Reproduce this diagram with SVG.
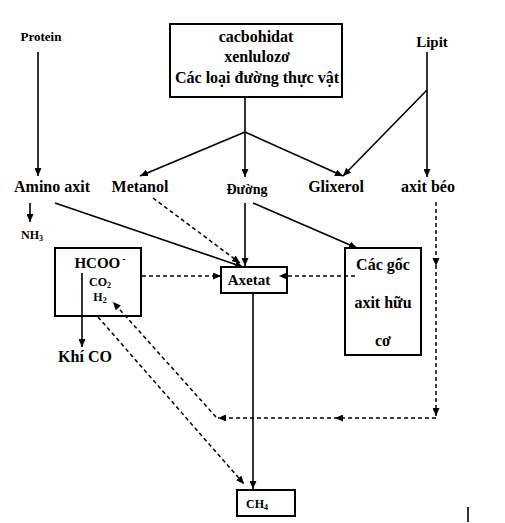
<svg xmlns="http://www.w3.org/2000/svg" width="505" height="523" viewBox="0 0 505 523">
<style>
text{font-family:"Liberation Serif","Times New Roman",serif;font-weight:bold;fill:#000;text-anchor:middle}
.box{fill:none;stroke:#000;stroke-width:2}
.s{fill:none;stroke:#000;stroke-width:1.6;marker-end:url(#ah)}
.d{fill:none;stroke:#000;stroke-width:1.5;stroke-dasharray:4 3;marker-end:url(#ah)}
.m{marker-mid:url(#ah)}
</style>
<defs>
<marker id="ah" markerUnits="userSpaceOnUse" markerWidth="8" markerHeight="7" refX="8" refY="3.5" orient="auto">
<path d="M0,0 L8,3.5 L0,7 z" fill="#000"/>
</marker>
</defs>
<rect width="505" height="523" fill="#fff"/>
<g id="carbohydrate">
<rect class="box" x="170" y="24" width="172" height="73"/>
<text x="256" y="42" font-size="16">cacbohidat</text>
<text x="257" y="62" font-size="16">xenlulozơ</text>
<text x="257" y="83" font-size="16">Các loại đường thực vật</text>
</g>
<g id="protein"><text x="41" y="41" font-size="13">Protein</text></g>
<g id="lipit"><text x="432" y="47" font-size="15">Lipit</text></g>
<g id="amino"><text x="52" y="192" font-size="16">Amino axit</text></g>
<g id="metanol"><text x="140" y="192" font-size="16">Metanol</text></g>
<g id="duong"><text x="247" y="194" font-size="14">Đường</text></g>
<g id="glixerol"><text x="336" y="192" font-size="16">Glixerol</text></g>
<g id="axitbeo"><text x="428" y="192" font-size="16">axit béo</text></g>
<g id="nh3"><text x="32" y="239" font-size="12">NH<tspan font-size="8" dy="2">3</tspan></text></g>
<g id="hcoo">
<rect class="box" x="55" y="248" width="86" height="68"/>
<text x="100" y="268" font-size="15">HCOO<tspan font-size="10" dx="2" dy="-6">-</tspan></text>
<text x="100" y="286" font-size="12">CO<tspan font-size="8" dy="2">2</tspan></text>
<text x="100" y="301" font-size="12">H<tspan font-size="8" dy="2">2</tspan></text>
</g>
<g id="axetat">
<rect class="box" x="221" y="267" width="66" height="26"/>
<text x="249" y="285" font-size="15">Axetat</text>
</g>
<g id="cacgoc">
<rect class="box" x="345" y="248" width="76" height="107"/>
<text x="383" y="270" font-size="16">Các gốc</text>
<text x="383" y="308" font-size="16">axit hữu</text>
<text x="383" y="346" font-size="16">cơ</text>
</g>
<g id="khico"><text x="85" y="362" font-size="16">Khí CO</text></g>
<g id="ch4">
<rect class="box" x="237" y="490" width="58" height="26"/>
<text x="257" y="508" font-size="12">CH<tspan font-size="8" dy="2">4</tspan></text>
</g>
<g id="connectors">
<path class="s" d="M38,52 L38,176"/>
<path class="s" d="M245,97 L245,177"/>
<path class="s" d="M245,132 L140,176"/>
<path class="s" d="M245,132 L343,176"/>
<path class="s" d="M427,52 L427,177"/>
<path class="s" d="M427,90 L343,176"/>
<path class="s" d="M30,203 L30,222"/>
<path class="s" d="M55,203 L243,267"/>
<path class="s" d="M245,203 L245,266"/>
<path class="s" d="M253,203 L357,248"/>
<path class="s" d="M82,273 L82,347"/>
<path class="s" d="M253,293 L253,489"/>
<path d="M468,507 L468,522" stroke="#000" stroke-width="1.6"/>
<path class="d" d="M153,198 L240,263"/>
<path class="d" d="M142,276 L221,276"/>
<path class="d" d="M355,276 L279,276"/>
<path class="d m" d="M436,202 L436,266 L436,416"/>
<path class="d m" d="M436,418 L335,418 L218,418"/>
<path class="d" d="M216,417 L113,302"/>
<path class="d" d="M98,317 L244,484"/>
</g>
</svg>
